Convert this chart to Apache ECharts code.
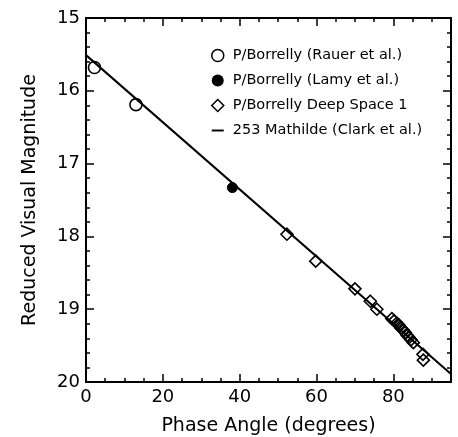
<!DOCTYPE html>
<html>
<head>
<meta charset="utf-8">
<script src="https://cdn.jsdelivr.net/npm/echarts@6/dist/echarts.min.js"></script>
<style>
  html, body { margin: 0; padding: 0; background: #fff; }
  #chart { width: 458px; height: 437px; }
</style>
</head>
<body>
<div id="chart"></div>
<script>
// phase angle (deg), reduced visual magnitude
var rauer = [[2.2, 15.68], [13.0, 16.19]];
var lamy = [[38.1, 17.33]];
var ds1 = [
  [52.3, 17.97], [59.8, 18.34], [70.0, 18.72], [74.0, 18.89], [75.7, 19.00],
  [79.6, 19.13], [80.2, 19.16], [80.9, 19.19], [81.5, 19.22], [82.0, 19.26],
  [82.6, 19.29], [83.1, 19.32], [83.6, 19.36], [84.1, 19.39], [84.6, 19.42],
  [85.2, 19.46], [87.7, 19.62], [87.8, 19.70]
];
var mathilde = [[0, 15.51], [95, 19.89]];

var names = [
  'P/Borrelly (Rauer et al.)',
  'P/Borrelly (Lamy et al.)',
  'P/Borrelly Deep Space 1',
  '253 Mathilde (Clark et al.)'
];

var font = 'DejaVu Sans';
var myChart = echarts.init(document.getElementById('chart'));

var axisCommon = {
  axisLine: { show: true, onZero: false, lineStyle: { color: '#000', width: 2 } },
  axisTick: { show: true, inside: true, length: 8, lineStyle: { color: '#000', width: 1.5 } },
  minorTick: { show: true, length: 4, lineStyle: { color: '#000', width: 1.5 } },
  splitLine: { show: false },
  minorSplitLine: { show: false }
};

var hollow = { color: '#fff', borderColor: '#000', borderWidth: 1.5, opacity: 1 };

var option = {
  animation: false,
  backgroundColor: '#fff',
  grid: { left: 86, top: 18, right: 7, bottom: 55, outerBoundsMode: 'none' },
  legend: {
    orient: 'vertical',
    left: 206,
    top: 43,
    itemWidth: 12,
    itemHeight: 12,
    itemGap: 10,
    textStyle: { fontFamily: font, fontSize: 14.5, color: '#000', padding: [0, 0, 0, 4] },
    data: [
      { name: names[0], icon: 'circle', itemStyle: hollow },
      { name: names[1], icon: 'circle', itemStyle: { color: '#000', borderWidth: 0, opacity: 1 } },
      { name: names[2], icon: 'diamond', itemStyle: hollow },
      { name: names[3], icon: 'path://M0,5 L10,5 L10,6.6 L0,6.6 Z', itemStyle: { color: '#000', borderWidth: 0, opacity: 1 } }
    ]
  },
  xAxis: [
    Object.assign({}, axisCommon, {
      type: 'value', min: 0, max: 95, interval: 20,
      minorTick: Object.assign({}, axisCommon.minorTick, { splitNumber: 4 }),
      axisLabel: { fontFamily: font, fontSize: 18, color: '#000', margin: 6,
        formatter: function (v) { return v % 20 === 0 ? v : ''; } },
      name: 'Phase Angle (degrees)', nameLocation: 'middle', nameGap: 35,
      nameTextStyle: { fontFamily: font, fontSize: 19, color: '#000' }
    }),
    Object.assign({}, axisCommon, {
      type: 'value', min: 0, max: 95, interval: 20, position: 'top',
      minorTick: Object.assign({}, axisCommon.minorTick, { splitNumber: 4 }),
      axisLabel: { show: false }
    })
  ],
  yAxis: [
    Object.assign({}, axisCommon, {
      type: 'value', min: 15, max: 20, interval: 1, inverse: true,
      minorTick: Object.assign({}, axisCommon.minorTick, { splitNumber: 5 }),
      axisLabel: { fontFamily: font, fontSize: 18, color: '#000', margin: 6 },
      name: 'Reduced Visual Magnitude', nameLocation: 'middle', nameGap: 46,
      nameTextStyle: { fontFamily: font, fontSize: 19, color: '#000' }
    }),
    Object.assign({}, axisCommon, {
      type: 'value', min: 15, max: 20, interval: 1, inverse: true, position: 'right',
      minorTick: Object.assign({}, axisCommon.minorTick, { splitNumber: 5 }),
      axisLabel: { show: false }
    })
  ],
  series: [
    {
      name: names[3], type: 'line', data: mathilde, symbol: 'none',
      lineStyle: { color: '#000', width: 2 }, itemStyle: { color: '#000' }, z: 1
    },
    {
      name: names[0], type: 'scatter', data: rauer, symbol: 'circle', symbolSize: 12,
      itemStyle: { color: 'rgba(255,255,255,0)', borderColor: '#000', borderWidth: 1.6, opacity: 1 }, z: 3
    },
    {
      name: names[1], type: 'scatter', data: lamy, symbol: 'circle', symbolSize: 10,
      itemStyle: { color: '#000', borderColor: '#000', borderWidth: 1, opacity: 1 }, z: 3
    },
    {
      name: names[2], type: 'scatter', data: ds1, symbol: 'diamond', symbolSize: 12,
      itemStyle: { color: 'rgba(255,255,255,0)', borderColor: '#000', borderWidth: 1.6, opacity: 1 }, z: 3
    }
  ]
};
myChart.setOption(option);
</script>
</body>
</html>
